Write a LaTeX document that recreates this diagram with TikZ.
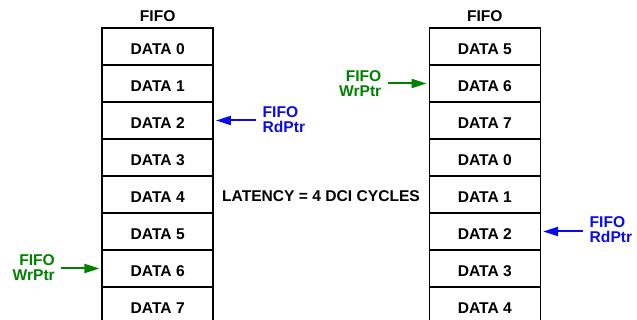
\documentclass[tikz,border=0pt]{standalone}
\usepackage{fontspec}
\setmainfont{Liberation Sans}
\usetikzlibrary{arrows.meta}
\definecolor{ptrblue}{RGB}{10,10,240}
\definecolor{ptrgreen}{RGB}{0,130,0}
\tikzset{
  cell/.style={draw=black, line width=1.5pt, minimum width=111pt, minimum height=37pt, inner sep=0pt, text height=15.4pt, text depth=0pt, font=\fontsize{15.6}{17}\selectfont\bfseries},
  title/.style={font=\fontsize{15.6}{17}\selectfont\bfseries, inner sep=0pt},
  plabel/.style={font=\fontsize{15.6}{14.8}\selectfont\bfseries, inner sep=0pt},
  ptr/.style={line width=2pt, -{Triangle[length=15pt,width=9pt]}, shorten >=2pt},
}
\begin{document}
\begin{tikzpicture}[x=1pt,y=-1pt]
\useasboundingbox (0,0) rectangle (637,320);
\clip (0,0) rectangle (637,320);
% left FIFO
\node[title] (lt) at (157.7,16) {FIFO};
\foreach \i/\t in {0/0,1/1,2/2,3/3,4/4,5/5,6/6,7/7}{
  \node[cell] (L\i) at (157.7,{46.5+37*\i}) {DATA \t};
}
% right FIFO
\node[title] (rt) at (484.8,16) {FIFO};
\foreach \i/\t in {0/5,1/6,2/7,3/0,4/1,5/2,6/3,7/4}{
  \node[cell] (R\i) at (484.8,{46.5+37*\i}) {DATA \t};
}
% latency
\node[title] (lat) at (321,196.5) {LATENCY = 4 DCI CYCLES};
% pointer labels
\node[plabel, text=ptrblue, align=left, anchor=west] (lrd) at (262.5,120) {FIFO\\RdPtr};
\node[plabel, text=ptrgreen, align=right, anchor=east] (lwr) at (55,267.5) {FIFO\\WrPtr};
\node[plabel, text=ptrgreen, align=right, anchor=east] (rwr) at (381.5,83.5) {FIFO\\WrPtr};
\node[plabel, text=ptrblue, align=left, anchor=west] (rrd) at (589.5,230) {FIFO\\RdPtr};
% arrows
\path (lrd.west) ++(-7,0) coordinate (lrdS);
\path (lwr.east) ++(6,0) coordinate (lwrS);
\path (rwr.east) ++(6,0) coordinate (rwrS);
\path (rrd.west) ++(-7,0) coordinate (rrdS);
\draw[ptr, draw=ptrblue, fill=ptrblue] (lrdS |- L2.east) -- (L2.east);
\draw[ptr, draw=ptrgreen, fill=ptrgreen] (lwrS |- L6.west) -- (L6.west);
\draw[ptr, draw=ptrgreen, fill=ptrgreen] (rwrS |- R1.west) -- (R1.west);
\draw[ptr, draw=ptrblue, fill=ptrblue] (rrdS |- R5.east) -- (R5.east);
\end{tikzpicture}
\end{document}
